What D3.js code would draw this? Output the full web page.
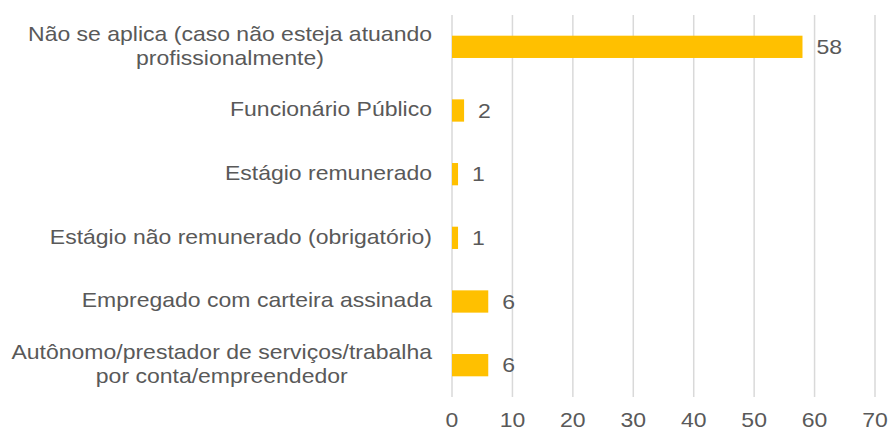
<!DOCTYPE html>
<html>
<head>
<meta charset="utf-8">
<script src="https://cdn.jsdelivr.net/npm/d3@7"></script>
<style>
  body { margin: 0; background: #fff; }
  text { font-family: "Liberation Sans", Arial, sans-serif; fill: #595959; }
</style>
</head>
<body>
<div id="chart"></div>
<script>
// categorias (de cima para baixo), cada uma com suas linhas de rótulo
const categories = [
    ["Não se aplica (caso não esteja atuando", "profissionalmente)"],
    ["Funcionário Público"],
    ["Estágio remunerado"],
    ["Estágio não remunerado (obrigatório)"],
    ["Empregado com carteira assinada"],
    ["Autônomo/prestador de serviços/trabalha", "por conta/empreendedor"]
];
const values = [58, 2, 1, 1, 6, 6];
const xTicks = [0, 10, 20, 30, 40, 50, 60, 70];

const width = 888, height = 430;
const margin = { top: 15, right: 13, bottom: 33, left: 452 };
const fontSize = "20px";
const sx = 1.15; // o texto do original é levemente esticado na horizontal

const svg = d3.select("#chart").append("svg")
    .attr("width", width)
    .attr("height", height);

const x = d3.scaleLinear()
    .domain([0, 70])
    .range([margin.left, width - margin.right]);

const y = d3.scaleBand()
    .domain(d3.range(categories.length))
    .range([margin.top, height - margin.bottom])
    .paddingInner(0.65)
    .paddingOuter(0.325);

// linhas de grade verticais
svg.append("g")
    .selectAll("line")
    .data(xTicks)
    .join("line")
    .attr("x1", d => x(d)).attr("x2", d => x(d))
    .attr("y1", margin.top).attr("y2", height - margin.bottom)
    .attr("stroke", "#d9d9d9")
    .attr("stroke-width", 1.5);

// rótulos do eixo x
svg.append("g")
    .selectAll("text")
    .data(xTicks)
    .join("text")
    .attr("transform", d => `translate(${x(d)},427) scale(${sx},1)`)
    .attr("text-anchor", "middle")
    .style("font-size", fontSize)
    .text(d => d);

// barras
svg.append("g")
    .selectAll("rect")
    .data(values)
    .join("rect")
    .attr("x", x(0))
    .attr("y", (d, i) => y(i))
    .attr("width", d => x(d) - x(0))
    .attr("height", y.bandwidth())
    .attr("fill", "#ffc000");

// rótulos de dados
svg.append("g")
    .selectAll("text")
    .data(values)
    .join("text")
    .attr("transform", (d, i) => `translate(${x(d) + 14},${y(i) + y.bandwidth() / 2}) scale(${sx},1)`)
    .attr("dy", "0.35em")
    .style("font-size", fontSize)
    .text(d => d);

// rótulos das categorias (bloco alinhado à direita, linhas centralizadas)
const lineH = 24;
const labelRight = 432;
const labels = svg.append("g")
    .attr("transform", `translate(${labelRight},-1) scale(${sx},1)`)
    .selectAll("g")
    .data(categories)
    .join("g");

labels.each(function (lines, i) {
    const g = d3.select(this);
    const cy = y(i) + y.bandwidth() / 2;
    const t = lines.map((s, k) => g.append("text")
        .attr("y", cy + (k - (lines.length - 1) / 2) * lineH)
        .attr("dy", "0.35em")
        .style("font-size", fontSize)
        .text(s));
    const w = d3.max(t, n => n.node().getComputedTextLength());
    t.forEach(n => n.attr("x", -w / 2).attr("text-anchor", "middle"));
});
</script>
</body>
</html>
